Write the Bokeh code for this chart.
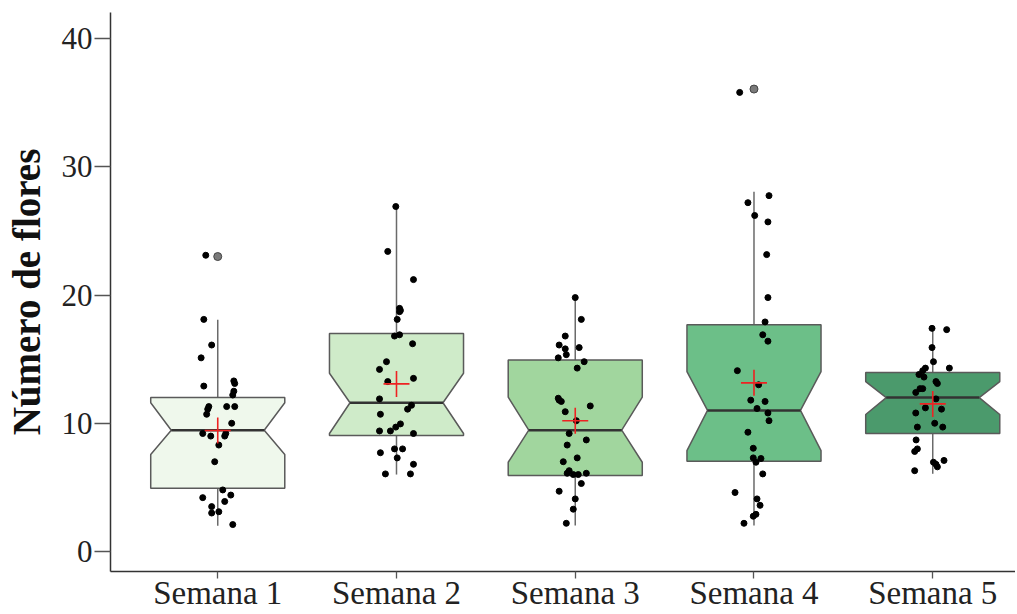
from bokeh.plotting import figure
from bokeh.models import Range1d, FixedTicker
from bokeh.embed import file_html
from bokeh.resources import INLINE

# ---------------- data ----------------
weeks = ["Semana 1", "Semana 2", "Semana 3", "Semana 4", "Semana 5"]

# box statistics
q1 = [4.93, 9.04, 5.92, 7.04, 9.20]
q3 = [12.0, 17.0, 14.94, 17.69, 13.95]
median = [9.45, 11.6, 9.46, 11.0, 12.0]
notch_lo = [7.56, 9.20, 6.96, 7.87, 10.68]
notch_hi = [11.6, 13.9, 12.03, 14.03, 13.25]
whisk_lo = [2.0, 6.0, 2.03, 2.03, 6.06]
whisk_hi = [18.08, 26.9, 19.77, 28.06, 17.48]
means = [9.43, 13.07, 10.2, 13.15, 11.51]

# outliers
outlier_week = [1, 4]
outlier_val = [23.0, 36.06]

# individual observations (values) and their horizontal jitter
w1_vals = [23.1, 18.1, 16.1, 15.1, 12.9, 13.3, 13.1, 12.5, 12.2, 11.3, 11.1, 10.7, 11.3, 11.3, 10.0,
           9.2, 9.0, 9.0, 9.2, 8.3, 7.0, 4.8, 4.4, 4.2, 3.9, 3.5, 3.0, 3.1, 2.1]
w1_jit = [-0.067, -0.078, -0.034, -0.093, -0.078, 0.090, 0.095, 0.090, 0.084, -0.050, -0.056, -0.062,
          0.050, 0.095, 0.078, -0.084, -0.039, 0.039, 0.045, 0.006, -0.017, 0.028, 0.073, -0.084,
          0.039, -0.034, -0.034, 0.006, 0.084]

w2_vals = [26.9, 23.4, 21.2, 18.96, 18.8, 18.7, 18.1, 16.8, 16.9, 16.2, 14.8, 14.2, 13.5, 13.25, 11.9,
           11.4, 11.1, 10.7, 9.95, 9.7, 9.4, 9.4, 9.2, 8.0, 8.0, 7.7, 7.3, 6.8, 6.05, 6.05]
w2_jit = [-0.004, -0.049, 0.095, 0.017, 0.022, 0.017, 0.004, -0.011, 0.017, 0.090, -0.056, -0.095,
          0.095, -0.049, -0.095, 0.084, 0.062, -0.090, 0.022, -0.004, -0.034, -0.095, 0.095, -0.011,
          0.034, -0.090, 0.004, 0.095, -0.062, 0.078]

w3_vals = [19.8, 18.1, 16.8, 16.1, 15.8, 15.35, 15.9, 15.1, 14.8, 14.3, 11.95, 11.8, 11.7, 11.35, 10.9,
           10.2, 9.2, 8.7, 8.3, 7.3, 7.0, 6.3, 6.1, 6.0, 6.0, 6.1, 5.3, 4.7, 4.1, 3.3, 2.2]
w3_jit = [0.0, 0.034, -0.056, -0.090, -0.056, -0.050, 0.022, -0.095, 0.050, 0.011, -0.095, -0.090,
          -0.078, 0.084, -0.056, 0.006, -0.034, 0.062, -0.045, 0.011, -0.067, -0.034, -0.045, -0.011,
          0.017, 0.062, 0.034, -0.090, 0.0, -0.011, -0.050]

w4_vals = [35.8, 27.75, 27.2, 26.2, 25.7, 23.15, 19.8, 17.9, 16.9, 16.4, 14.1, 13.0, 11.8, 11.7, 11.15,
           10.8, 10.2, 9.3, 8.05, 7.3, 6.96, 7.25, 6.05, 4.6, 4.1, 3.6, 2.9, 2.75, 2.2]
w4_jit = [-0.080, 0.084, -0.034, 0.004, 0.078, 0.071, 0.078, 0.062, 0.049, 0.078, -0.093, 0.026,
          -0.018, 0.062, 0.017, 0.078, 0.084, -0.034, -0.004, -0.004, 0.011, 0.039, 0.049, -0.106,
          0.017, 0.034, 0.011, -0.004, -0.056]

w5_vals = [17.4, 17.3, 15.9, 14.8, 14.3, 14.3, 14.1, 13.8, 13.6, 13.25, 13.1, 12.7, 12.7, 12.4, 11.9,
           11.2, 11.1, 10.8, 10.0, 9.7, 9.7, 8.7, 8.0, 7.8, 6.96, 6.8, 6.6, 7.1, 6.3]
w5_jit = [-0.004, 0.078, -0.004, 0.004, 0.093, -0.041, -0.056, -0.077, -0.049, 0.018, 0.026, -0.071,
          -0.056, -0.095, 0.018, -0.041, 0.049, -0.095, 0.011, -0.086, 0.056, -0.093, -0.086, -0.101,
          0.004, 0.018, 0.026, 0.063, -0.101]

fills = ["#eff8ec", "#cfebc9", "#a1d69e", "#6cbf88", "#4b9a6c"]

# ---------------- figure ----------------
p = figure(width=1015, height=613, output_backend="svg", toolbar_location=None,
           x_range=Range1d(0.40, 5.463), y_range=Range1d(-1.56, 42.03),
           min_border_left=110, min_border_right=0, min_border_top=12, min_border_bottom=20)
p.outline_line_color = None
p.xgrid.visible = False
p.ygrid.visible = False
p.background_fill_color = "white"
p.border_fill_color = "white"

HW = 0.375   # half box width
NW = 0.26    # half notch width
pos = [i + 1 for i in range(len(weeks))]

# whiskers
p.segment(x0=pos, y0=whisk_lo, x1=pos, y1=q1, line_color="#6a6a6a", line_width=1.5)
p.segment(x0=pos, y0=q3, x1=pos, y1=whisk_hi, line_color="#6a6a6a", line_width=1.5)

# notched boxes
xs, ys = [], []
for i, x in enumerate(pos):
    xs.append([x - HW, x + HW, x + HW, x + NW, x + HW, x + HW, x - HW, x - HW, x - NW, x - HW])
    ys.append([q3[i], q3[i], notch_hi[i], median[i], notch_lo[i], q1[i], q1[i], notch_lo[i], median[i], notch_hi[i]])
p.patches(xs, ys, fill_color=fills, line_color="#5a5a5a", line_width=1.5)

# medians
p.segment(x0=[x - NW for x in pos], y0=median, x1=[x + NW for x in pos], y1=median,
          line_color="#333333", line_width=2.5)

# observations
all_vals = [w1_vals, w2_vals, w3_vals, w4_vals, w5_vals]
all_jit = [w1_jit, w2_jit, w3_jit, w4_jit, w5_jit]
px, py = [], []
for k, (vals, jit) in enumerate(zip(all_vals, all_jit)):
    for v, j in zip(vals, jit):
        px.append(pos[k] + j)
        py.append(v)
p.scatter(px, py, size=6, fill_color="black", line_color="black")

# outliers
p.scatter(outlier_week, outlier_val, size=8, fill_color="#7a7a7a", line_color="#444444", line_width=1)

# means
p.scatter(pos, means, marker="cross", size=26, line_color="#ee2222", line_width=1.6)

# axes
p.xaxis.ticker = FixedTicker(ticks=pos)
p.xaxis.major_label_overrides = {x: w for x, w in zip(pos, weeks)}
p.yaxis.ticker = FixedTicker(ticks=[0, 10, 20, 30, 40])
for ax in (p.xaxis, p.yaxis):
    ax.axis_line_color = "#333333"
    ax.axis_line_width = 1.5
    ax.major_tick_line_color = "#555555"
    ax.major_tick_line_width = 1.3
    ax.minor_tick_line_color = None
    ax.major_tick_in = 0
    ax.major_label_text_font = "Liberation Serif"
    ax.major_label_text_color = "#222222"
p.yaxis.major_tick_out = 16
p.xaxis.major_tick_out = 7
p.yaxis.major_label_text_font_size = "31px"
p.xaxis.major_label_text_font_size = "33px"
p.yaxis.major_label_standoff = 2
p.xaxis.major_label_standoff = -4
p.yaxis.axis_label = "Número de flores"
p.yaxis.axis_label_text_font = "Liberation Serif"
p.yaxis.axis_label_text_font_style = "bold"
p.yaxis.axis_label_text_font_size = "39px"
p.yaxis.axis_label_text_color = "#111111"
p.yaxis.axis_label_standoff = 11

open("out.html", "w").write(file_html(p, INLINE))
